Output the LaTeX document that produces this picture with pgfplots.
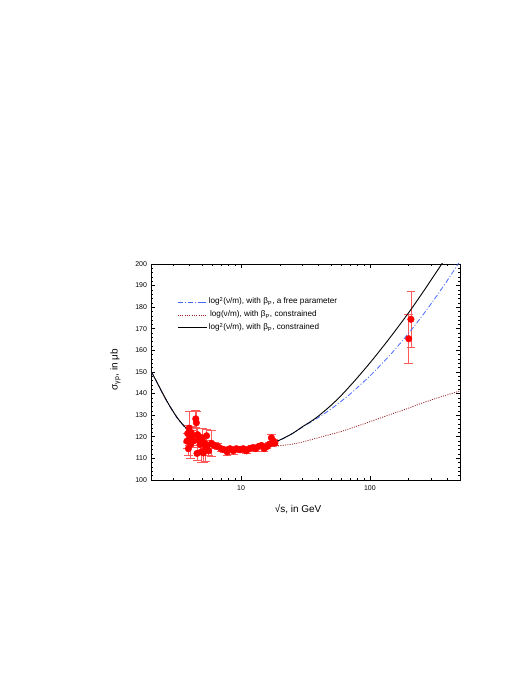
\documentclass[border=0pt]{standalone}
\usepackage{fontspec}
\setmainfont{Liberation Sans}
\usepackage{pgfplots}
\usepackage{pgfplotstable}
\pgfplotsset{compat=1.18}

% low-energy and HERA points: W (GeV), sigma (mub), error
\pgfplotstableread{
W     s      e
3.80  118.0  3.5
3.85  121.5  4.0
3.90  114.5  3.0
3.95  124.0  8.0
4.00  119.5  2.5
4.05  116.5  6.5
4.10  122.0  3.0
4.20  120.5  2.5
4.25  118.0  3.0
4.45  128.3  4.0
4.50  126.5  5.5
4.55  112.3  3.0
4.60  121.0  3.0
4.65  118.5  2.5
4.80  116.5  4.0
4.90  113.0  5.0
5.00  119.5  4.5
5.10  112.5  4.5
5.20  117.0  3.5
5.30  114.5  6.0
5.40  120.5  3.0
5.50  116.0  2.5
5.60  113.5  2.0
5.90  117.0  6.0
6.20  116.0  1.5
6.60  115.5  1.5
7.00  114.5  1.2
7.40  114.0  1.2
7.80  113.0  1.5
8.20  114.5  1.0
8.70  113.5  1.5
9.20  114.5  1.0
9.80  114.0  1.0
10.4  114.5  1.0
11.0  113.5  1.0
11.6  114.5  1.0
12.3  115.0  1.0
13.0  114.5  1.0
13.7  115.5  1.0
14.4  116.0  1.0
15.1  114.5  1.2
15.9  115.5  1.0
16.6  116.5  1.0
17.2  119.5  1.5
17.8  118.0  1.0
18.3  117.0  1.0
200   165.4  11.2
208   174.4  12.8
}\datatable

\definecolor{ptred}{RGB}{255,0,0}
\definecolor{barred}{RGB}{255,90,90}
\definecolor{dashblue}{RGB}{70,105,250}
\definecolor{dotred}{RGB}{150,30,30}

\begin{document}
\begin{tikzpicture}
\path[use as bounding box] (0,0) rectangle (526bp,681bp);
\begin{axis}[
    at={(151bp,201bp)}, anchor=south west,
    scale only axis,
    width=309bp, height=216bp,
    xmode=log,
    xmin=2, xmax=500,
    ymin=100, ymax=200,
    xtick={10,100},
    xticklabels={10,100},
    minor xtick={2,3,4,5,6,7,8,9,20,30,40,50,60,70,80,90,200,300,400,500},
    ytick={100,110,...,200},
    minor y tick num=4,
    major tick length=4bp,
    minor tick length=2bp,
    tick style={black, line width=0.6pt},
    axis line style={line width=0.8pt},
    /pgf/number format/assume math mode=true,
    ticklabel style={font=\fontsize{7}{8}\selectfont},
    yticklabel style={xshift=-0.5bp},
    xticklabel style={yshift=-2bp},
    xlabel={√s, in GeV},
    ylabel={σ\textsubscript{γp}, in μb},
    label style={font=\fontsize{8.5}{10}\selectfont},
    every axis x label/.style={at={(axis description cs:0.476,-0.135)}, anchor=center},
    every axis y label/.style={at={(axis description cs:-0.115,0.51)}, rotate=90, anchor=center},
    legend style={draw=none, fill=none, at={(axis description cs:0.075,0.86)}, anchor=north west,
        font=\fontsize{8.2}{9}\selectfont, row sep=2bp,
        nodes={inner sep=1.5bp, text height=6bp, text depth=2bp}},
    legend cell align=left,
    legend image code/.code={\draw[#1] (0bp,0bp) -- (23bp,0bp); \path (23bp,0bp) -- (29bp,0bp);},
]
\addplot[only marks, mark=*, mark size=3.3bp, color=ptred, forget plot,
    error bars/.cd, y dir=both, y explicit,
    error bar style={barred, line width=0.6pt},
    error mark options={rotate=90, barred, mark size=4.3bp, line width=0.6pt}]
    table[x=W, y=s, y error=e] {\datatable};

\addplot[dashblue, line width=0.8pt, smooth, dash pattern=on 5bp off 2bp on 1bp off 2bp] coordinates {
(2,150.5)(2.2,145.6)(2.5,139.2)(2.8,134)(3.2,128.6)(3.6,124.9)(4,122.1)(4.5,119.6)(5,117.9)(6,115.8)(7,114.8)(8,114.3)(9.5,114.2)(11,114.5)(13,115.2)(15,116.1)(18,117.6)(20,118.5)(25,121.5)(30,124.5)(35,126.9)(40,129)(50,132.9)(60,136.5)(70,139.7)(80,142.8)(100,148.2)(125,154.1)(150,159.2)(200,168)(250,175.4)(300,181.8)(350,187.4)(400,192.5)(500,201.3)
};
\addplot[dotred, line width=0.8pt, smooth, dash pattern=on 1bp off 1.3bp] coordinates {
(2,150.5)(2.2,145.8)(2.5,139.4)(2.8,134.2)(3.2,128.8)(3.6,125.1)(4,122.3)(4.5,119.8)(5,118.1)(6,115.9)(7,114.8)(8,114.3)(9.5,114.2)(11,114.4)(13,114.8)(15,115.2)(17,115.5)(19.5,115.8)(25,116.6)(30,117.6)(42.3,120)(60,122.5)(76.6,124.6)(100,127)(139,130)(200,133.3)(251,135.5)(350,138.4)(500,141.2)
};
\addplot[black, line width=0.9pt, smooth] coordinates {
(2,150.5)(2.2,145.8)(2.5,139.4)(2.8,134.2)(3.2,128.8)(3.6,125.1)(4,122.3)(4.5,119.8)(5,118.1)(6,115.9)(7,114.8)(8,114.3)(9.5,114.2)(11,114.5)(13,115.2)(15,116.1)(18,117.6)(20,118.5)(25,121.5)(30,124.7)(35,127.2)(40,129.7)(50,134.6)(60,139.2)(70,143.5)(80,147.4)(100,154.2)(125,161.4)(150,167.5)(200,177.5)(250,185.8)(300,192.8)(350,198.8)(400,204.1)
};
\legend{{log\textsuperscript{2}(ν/m), with β\textsubscript{P}, a free parameter},
        {\,log(ν/m), with β\textsubscript{P}, constrained},
        {log\textsuperscript{2}(ν/m), with β\textsubscript{P}, constrained}}
\end{axis}
\end{tikzpicture}
\end{document}
